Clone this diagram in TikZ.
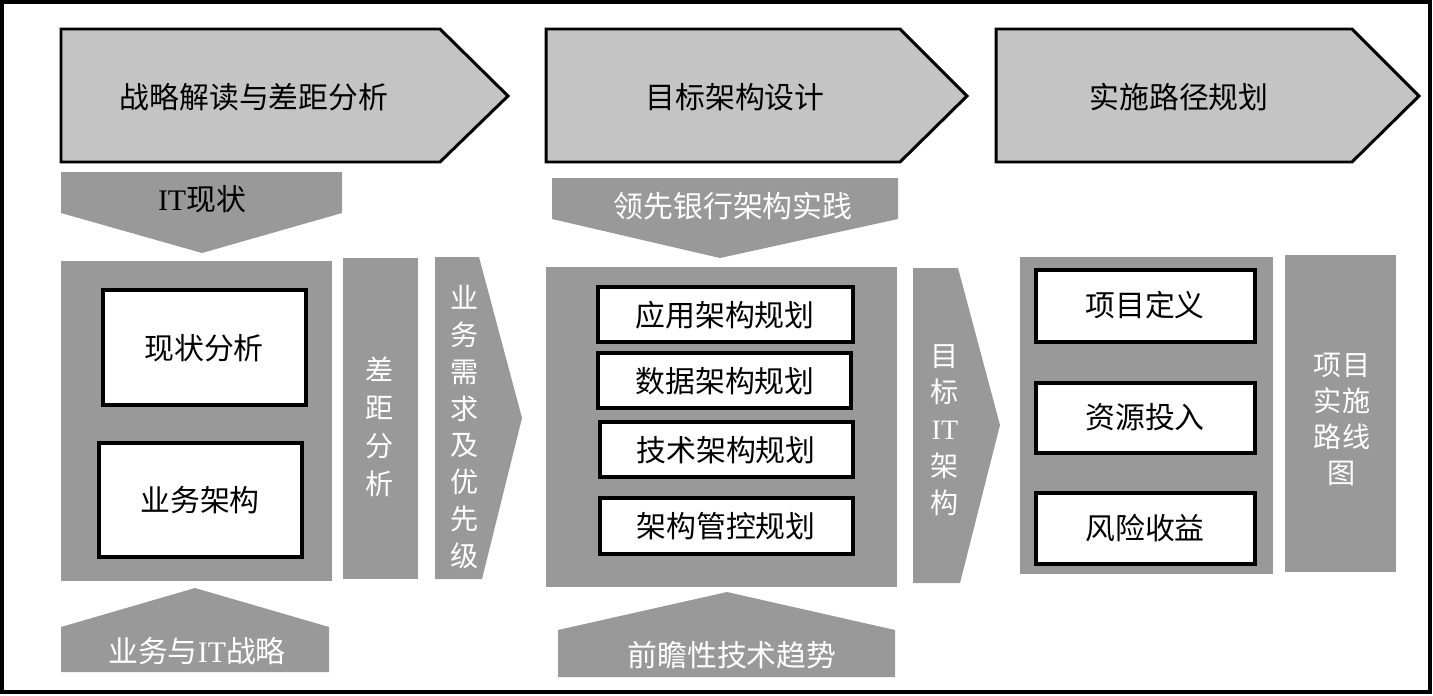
\documentclass[tikz,border=0pt]{standalone}
\usepackage{fontspec}
\setmainfont{Noto Sans CJK SC}
\newfontfamily\latfont{Liberation Serif}
\definecolor{chevfill}{RGB}{196,196,196}
\definecolor{darkfill}{RGB}{153,153,153}

\begin{document}
\begin{tikzpicture}[x=0.02cm,y=-0.02cm,
  chev/.style={draw=black,line width=1.7pt,fill=chevfill,line join=miter},
  gblock/.style={fill=darkfill},
  wbox/.style={draw=black,line width=2pt,fill=white},
  btxt/.style={font=\fontsize{17}{20}\selectfont,text=black},
  wtxt/.style={font=\fontsize{17}{20}\selectfont,text=white},
  vtxt/.style={text=white,align=center}]
  \useasboundingbox (0,0) rectangle (1433,696);
  \draw[line width=2.3pt] (2,2) rectangle (1430,692);

  \draw[chev] (61,29) -- (440,29) -- (508,96) -- (440,162) -- (61,162) -- cycle;
  \draw[chev] (546,29) -- (900,29) -- (967,96) -- (900,162) -- (546,162) -- cycle;
  \draw[chev] (996,29) -- (1352,29) -- (1419,96) -- (1352,162) -- (996,162) -- cycle;
  \node[btxt] (zljd) at (254,97) {战略解读与差距分析};
  \node[btxt] (mbjg) at (735,97) {目标架构设计};
  \node[btxt] (sslj) at (1179,97) {实施路径规划};

  \fill[gblock] (61,172) -- (342,172) -- (342,213) -- (202,253) -- (61,213) -- cycle;
  \node[btxt] (itxz) at (202,199) {{\latfont IT}现状};
  \fill[gblock] (552,178) -- (898,178) -- (898,219) -- (720,258) -- (552,219) -- cycle;
  \node[wtxt] (lxyh) at (733,206) {领先银行架构实践};

  \fill[gblock] (61,672) -- (61,627) -- (195,588) -- (329,627) -- (329,672) -- cycle;
  \node[wtxt] (ywzl) at (197,651) {业务与{\latfont IT}战略};
  \fill[gblock] (558,677) -- (558,630) -- (727,592) -- (895,630) -- (895,677) -- cycle;
  \node[wtxt] (qzjs) at (732,655) {前瞻性技术趋势};

  \fill[gblock] (61,261) rectangle (332,581);
  \draw[wbox] (103,290) rectangle (306,405);
  \node[btxt] (xzfx) at (204,348) {现状分析};
  \draw[wbox] (99,443) rectangle (302,557);
  \node[btxt] (ywjg) at (200,500) {业务架构};
  \fill[gblock] (343,258) rectangle (418,579);
  \node[vtxt,font=\fontsize{16}{21.6}\selectfont] (cjfx) at (380,427) {差\\距\\分\\析};
  \fill[gblock] (435,257) -- (479,257) -- (522,418) -- (482,579) -- (435,579) -- cycle;
  \node[vtxt,font=\fontsize{16}{21}\selectfont] (ywxq) at (465,427) {业\\务\\需\\求\\及\\优\\先\\级};

  \fill[gblock] (546,267) rectangle (897,587);
  \draw[wbox] (598,287) rectangle (853,342);
  \node[btxt] (yyjg) at (725,315) {应用架构规划};
  \draw[wbox] (598,353) rectangle (851,408);
  \node[btxt] (sjjg) at (725,381) {数据架构规划};
  \draw[wbox] (600,422) rectangle (853,477);
  \node[btxt] (jsjg) at (726,450) {技术架构规划};
  \draw[wbox] (600,498) rectangle (853,554);
  \node[btxt] (jggk) at (726,526) {架构管控规划};
  \fill[gblock] (913,268) -- (958,268) -- (1000,425) -- (960,583) -- (913,583) -- cycle;
  \node[vtxt,font=\fontsize{16}{21}\selectfont] (mbit) at (945,430) {目\\标\\{\latfont IT}\\架\\构};

  \fill[gblock] (1020,257) rectangle (1273,574);
  \draw[wbox] (1036,270) rectangle (1255,342);
  \node[btxt] (xmdy) at (1145,305) {项目定义};
  \draw[wbox] (1036,383) rectangle (1255,453);
  \node[btxt] (zytr) at (1145,417) {资源投入};
  \draw[wbox] (1036,493) rectangle (1255,564);
  \node[btxt] (fxsy) at (1145,528) {风险收益};
  \fill[gblock] (1285,255) rectangle (1396,572);
  \node[vtxt,font=\fontsize{16}{20.5}\selectfont] (xmss) at (1342,419) {项目\\实施\\路线\\图};
\end{tikzpicture}
\end{document}
